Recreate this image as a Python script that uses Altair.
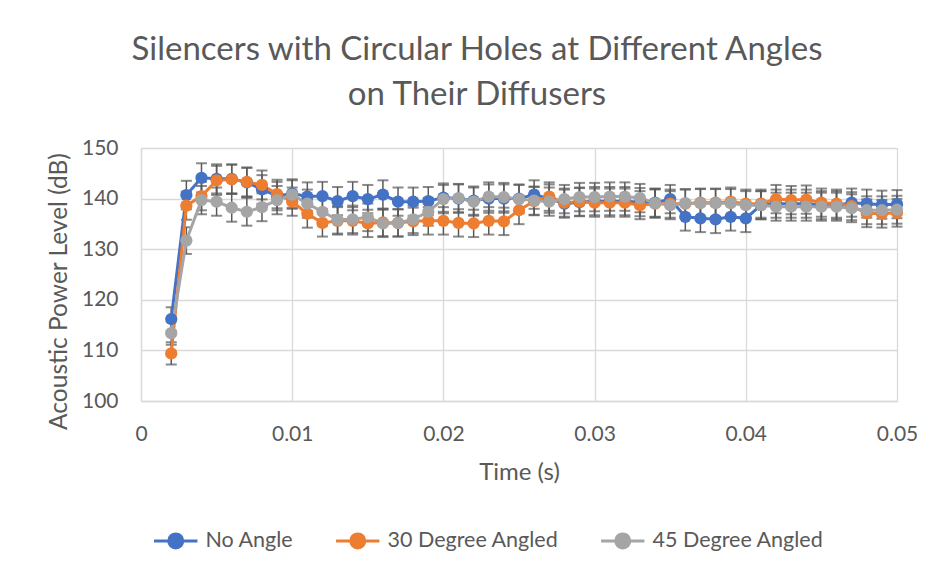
import altair as alt
import pandas as pd

TIME = [0.002, 0.003, 0.004, 0.005, 0.006, 0.007, 0.008, 0.009, 0.010,
        0.011, 0.012, 0.013, 0.014, 0.015, 0.016, 0.017, 0.018, 0.019, 0.020,
        0.021, 0.022, 0.023, 0.024, 0.025, 0.026, 0.027, 0.028, 0.029, 0.030,
        0.031, 0.032, 0.033, 0.034, 0.035, 0.036, 0.037, 0.038, 0.039, 0.040,
        0.041, 0.042, 0.043, 0.044, 0.045, 0.046, 0.047, 0.048, 0.049, 0.050]

NO_ANGLE = [116.2, 140.7, 144.1, 143.9, 143.9, 143.2, 141.8, 140.5, 141.0,
            140.4, 140.5, 139.5, 140.5, 139.9, 140.8, 139.4, 139.4, 139.5, 140.2,
            140.0, 139.6, 140.0, 140.0, 140.0, 140.8, 140.0, 139.0, 139.3, 139.5,
            139.5, 139.5, 139.3, 139.2, 139.9, 136.4, 136.1, 135.9, 136.4, 136.1,
            138.7, 139.0, 139.0, 139.0, 138.7, 138.7, 139.2, 139.0, 138.8, 138.9]

DEG30 = [109.4, 138.6, 140.5, 143.6, 143.8, 143.3, 142.7, 140.9, 139.4,
         137.0, 135.2, 135.6, 135.6, 135.1, 135.3, 135.2, 135.5, 135.6, 135.6,
         135.2, 135.1, 135.6, 135.5, 137.7, 139.5, 140.4, 139.2, 139.4, 139.2,
         139.2, 139.2, 138.7, 139.0, 139.0, 139.0, 139.2, 139.2, 139.4, 139.0,
         139.0, 139.9, 139.7, 139.8, 139.2, 139.0, 138.5, 137.1, 137.0, 137.2]

DEG45 = [113.4, 131.7, 139.7, 139.4, 138.2, 137.4, 138.3, 139.7, 140.8,
         139.0, 137.4, 135.8, 135.9, 136.3, 135.1, 135.2, 135.9, 137.4, 139.9,
         140.1, 139.4, 140.4, 140.3, 139.9, 139.6, 139.4, 139.9, 140.3, 140.3,
         140.4, 140.4, 140.1, 139.1, 138.7, 139.1, 139.1, 139.1, 139.1, 138.7,
         138.7, 138.4, 138.4, 138.4, 138.4, 138.4, 138.1, 137.7, 137.7, 137.8]

SERIES = ["No Angle", "30 Degree Angled", "45 Degree Angled"]
COLORS = ["#4472C4", "#ED7D31", "#A5A5A5"]
ERR_PCT = 2.0  # percentage error bars

X_TICKS = [0, 0.01, 0.02, 0.03, 0.04, 0.05]
Y_TICKS = [100, 110, 120, 130, 140, 150]

rows = []
for name, vals in zip(SERIES, [NO_ANGLE, DEG30, DEG45]):
    for t, v in zip(TIME, vals):
        rows.append({"time": t, "level": v, "series": name})
df = pd.DataFrame(rows)

FONT = "Lato"
TXT = "#595959"
GRID = "#D9D9D9"

x_enc = alt.X("time:Q", scale=alt.Scale(domain=[0, 0.05], nice=False, zero=False),
              axis=alt.Axis(values=X_TICKS, format="~g", title="Time (s)", labelFlush=False))
y_scale = alt.Scale(domain=[100, 150], nice=False, zero=False)

base = alt.Chart(df).transform_calculate(
    lo=f"datum.level * (1 - {ERR_PCT}/100)",
    hi=f"datum.level * (1 + {ERR_PCT}/100)",
)

err = base.mark_rule(color="#595959", strokeWidth=1.5).encode(
    x=x_enc,
    y=alt.Y("lo:Q", scale=y_scale, axis=alt.Axis(values=Y_TICKS, title="Acoustic Power Level (dB)")),
    y2="hi:Q",
)
cap_top = base.mark_tick(color="#595959", orient="horizontal", size=11, thickness=2).encode(
    x=x_enc, y=alt.Y("hi:Q", scale=y_scale))
cap_bot = base.mark_tick(color="#595959", orient="horizontal", size=11, thickness=2).encode(
    x=x_enc, y=alt.Y("lo:Q", scale=y_scale))

color = alt.Color("series:N", scale=alt.Scale(domain=SERIES, range=COLORS),
                  sort=SERIES,
                  legend=alt.Legend(title=None, orient="none", direction="horizontal",
                                    legendX=24, legendY=382,
                                    symbolType="M-3.1,0L3.1,0M1,0A1,1,0,1,1,-1,0A1,1,0,1,1,1,0",
                                    symbolSize=196, symbolStrokeWidth=3,
                                    labelOffset=19, columnPadding=36, labelLimit=400,
                                    labelFont=FONT, labelFontSize=21.5, labelColor=TXT))

line = base.mark_line(strokeWidth=3).encode(
    x=x_enc, y=alt.Y("level:Q", scale=y_scale), color=color, detail="series:N")
pts = base.mark_point(filled=True, size=150, opacity=1).encode(
    x=x_enc, y=alt.Y("level:Q", scale=y_scale), color=color)

chart = alt.layer(err, cap_top, cap_bot, line, pts).properties(
    width=756, height=253,
    autosize=alt.AutoSizeParams(type="none"),
    padding={"left": 133, "top": 140, "right": 20, "bottom": 166},
    title=alt.TitleParams(
        text=["Silencers with Circular Holes at Different Angles", "on Their Diffusers"],
        font=FONT, fontSize=33, fontWeight="normal", color=TXT,
        anchor="middle", frame="group", dx=-42, offset=25, lineHeight=45),
).configure_view(stroke=None).configure_axis(
    gridColor=GRID, gridWidth=1.3, domainColor=GRID, domainWidth=1.3,
    ticks=False, labelFont=FONT, labelFontSize=21, labelColor=TXT,
    titleFont=FONT, titleColor=TXT, titleFontWeight="normal",
).configure_axisY(
    labelPadding=23, titleX=-82, titleY=143, titleAngle=-90, titleBaseline="middle",
    titleAlign="center", titleFontSize=24.5,
).configure_axisX(
    labelPadding=22, titlePadding=16, titleFontSize=24,
)

chart.save("out.html", embed_options={"renderer": "svg", "actions": False})
